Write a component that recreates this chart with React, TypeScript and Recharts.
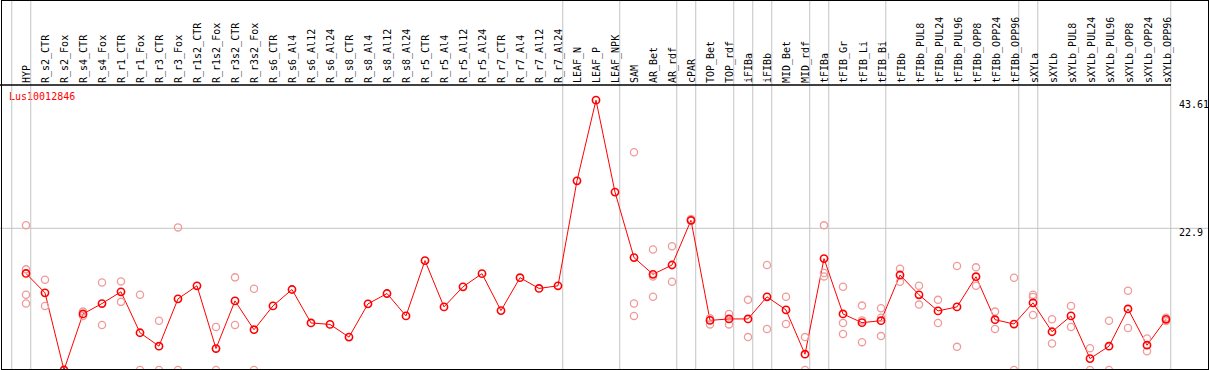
import { ComposedChart, Line, Scatter, XAxis, YAxis, ReferenceLine } from 'recharts';

const geneId = 'Lus10012846';

const categories = [
  'HYP', 'R_s2_CTR', 'R_s2_Fox', 'R_s4_CTR', 'R_s4_Fox', 'R_r1_CTR', 'R_r1_Fox', 'R_r3_CTR',
  'R_r3_Fox', 'R_r1s2_CTR', 'R_r1s2_Fox', 'R_r3s2_CTR', 'R_r3s2_Fox', 'R_s6_CTR', 'R_s6_Al4',
  'R_s6_Al12', 'R_s6_Al24', 'R_s8_CTR', 'R_s8_Al4', 'R_s8_Al12', 'R_s8_Al24', 'R_r5_CTR',
  'R_r5_Al4', 'R_r5_Al12', 'R_r5_Al24', 'R_r7_CTR', 'R_r7_Al4', 'R_r7_Al12', 'R_r7_Al24',
  'LEAF_N', 'LEAF_P', 'LEAF_NPK', 'SAM', 'AR_Bet', 'AR_rdf', 'cPAR', 'TOP_Bet', 'TOP_rdf',
  'iFIBa', 'iFIBb', 'MID_Bet', 'MID_rdf', 'tFIBa', 'tFIB_Gr', 'tFIB_Li', 'tFIB_Bi', 'tFIBb',
  'tFIBb_PUL8', 'tFIBb_PUL24', 'tFIBb_PUL96', 'tFIBb_OPP8', 'tFIBb_OPP24', 'tFIBb_OPP96',
  'sXYLa', 'sXYLb', 'sXYLb_PUL8', 'sXYLb_PUL24', 'sXYLb_PUL96', 'sXYLb_OPP8', 'sXYLb_OPP24',
  'sXYLb_OPP96',
];

// mean expression per sample
const means = [
  15.6, 12.47, 0, 9.06, 10.74, 12.64, 6.02, 3.85, 11.5, 13.61, 3.47, 11.17, 6.51,
  10.36, 13.01, 7.6, 7.37, 5.32, 10.69, 12.36, 8.74, 17.68, 10.2, 13.45, 15.57,
  9.6, 14.92, 13.18, 13.61, 30.58, 43.61, 28.75, 18.17, 15.46, 16.97, 24.19,
  8.02, 8.25, 8.25, 11.83, 9.71, 2.55, 18.0, 9.06, 7.65, 7.97, 15.35, 12.15,
  9.55, 10.2, 15.08, 8.13, 7.43, 10.85, 6.18, 8.74, 1.84, 3.85, 9.87, 4.01, 8.19,
];

// individual replicates per sample
const replicates: number[][] = [
  [23.4, 16.27, 12.15, 10.74], [14.59, 10.36], [0, 0], [9.44, 8.74], [14.15, 7.27],
  [14.32, 11.01], [12.15, 0], [7.97, 0], [23.05, 0], [], [6.94, 0], [14.97, 7.27],
  [13.12, 0], [], [], [], [], [], [], [], [], [], [], [], [], [], [], [], [], [], [], [],
  [35.19, 10.74, 8.74], [19.47, 15.1, 11.83], [20.0, 14.27], [24.4, 24.1], [8.35, 7.37],
  [9.06, 7.37], [11.34, 5.32], [16.97, 6.62], [11.83, 7.43], [5.32, 0],
  [23.38, 15.68, 15.13], [13.45, 7.6, 5.81], [10.41, 8.02, 4.5], [9.97, 8.46, 5.48],
  [16.38, 14.27], [13.61, 10.57], [11.34, 7.6], [16.81, 3.74], [16.59, 13.61],
  [9.44, 6.62], [14.92, 0], [12.15, 11.8, 8.9], [8.19, 4.28], [10.36, 6.94], [3.53, 0],
  [7.97, 0], [12.8, 6.78], [5.1, 3.04], [8.46, 7.9],
];

// separators are drawn after these sample indices
const groupEnds = [-1, 0, 28, 31, 34, 35, 37, 38, 39, 41, 42, 45, 52, 53, 60];
const yTicks = [0, 22.9, 43.61];

const meanPoints = categories.map((name, i) => ({ idx: i, name, mean: means[i] }));
const repPoints = replicates.flatMap((reps, i) => reps.map((rep) => ({ idx: i, rep })));

const FONT = '"DejaVu Sans Mono", monospace';
const RED = '#ff0000';
const PINK = '#f09a9a';
const GRID = '#c4c4c4';

function CategoryTick(props: any) {
  const { x, y, payload } = props;
  return (
    <text
      transform={`translate(${x + 1},${y}) rotate(-90)`}
      textAnchor="start"
      dominantBaseline="central"
      fontFamily={FONT}
      fontSize={10}
      fill="#000"
    >
      {categories[payload.value]}
    </text>
  );
}

function ValueTick(props: any) {
  const { x, y, payload } = props;
  return (
    <text
      x={x}
      y={Math.min(y + 4.5, 362)}
      dominantBaseline="central"
      fontFamily={FONT}
      fontSize={10}
      fill="#000"
    >
      {payload.value}
    </text>
  );
}

export default function App() {
  return (
    <div style={{ position: 'relative', width: 1209, height: 370, background: '#fff' }}>
      <style>{'body{margin:0}'}</style>
      <ComposedChart
        width={1209}
        height={370}
        data={meanPoints}
        margin={{ top: 0, right: 0, left: 0, bottom: 0 }}
      >
        <XAxis
          xAxisId={0}
          type="number"
          dataKey="idx"
          orientation="top"
          height={85}
          domain={[-1.368, 60.263]}
          ticks={categories.map((_, i) => i)}
          interval={0}
          tickLine={false}
          tickSize={0}
          tickMargin={2}
          axisLine={{ stroke: '#000', strokeWidth: 1.5 }}
          tick={<CategoryTick />}
        />
        <YAxis
          type="number"
          orientation="right"
          width={38}
          domain={[0, 46.06]}
          ticks={yTicks}
          axisLine={false}
          tickLine={false}
          tick={<ValueTick />}
        />
        {groupEnds.map((g) => (
          <ReferenceLine
            key={g}
            x={g + 0.25}
            stroke={GRID}
            shape={(p: any) => (
              <line x1={p.x1} x2={p.x2} y1={0} y2={Math.max(p.y1, p.y2)} stroke={GRID} strokeWidth={1} />
            )}
          />
        ))}
        <ReferenceLine
          y={22.9}
          stroke={GRID}
          shape={(p: any) => (
            <line x1={0} x2={1209} y1={p.y1} y2={p.y2} stroke={GRID} strokeWidth={1} />
          )}
        />
        <Scatter
          data={repPoints}
          dataKey="rep"
          isAnimationActive={false}
          shape={(p: any) => (
            <circle cx={p.cx} cy={p.cy} r={3.6} fill="none" stroke={PINK} strokeWidth={1.3} />
          )}
        />
        <Line
          type="linear"
          dataKey="mean"
          stroke={RED}
          strokeWidth={1}
          dot={{ r: 3.6, stroke: RED, strokeWidth: 1.6, fill: 'none' }}
          activeDot={false}
          isAnimationActive={false}
        />
        <text x={9} y={100} fill={RED} fontFamily={FONT} fontSize={10}>
          {geneId}
        </text>
      </ComposedChart>
      <div
        style={{
          position: 'absolute',
          left: 1,
          top: 0,
          width: 1208,
          height: 370,
          border: '1px solid #000',
          boxSizing: 'border-box',
          pointerEvents: 'none',
        }}
      />
    </div>
  );
}
